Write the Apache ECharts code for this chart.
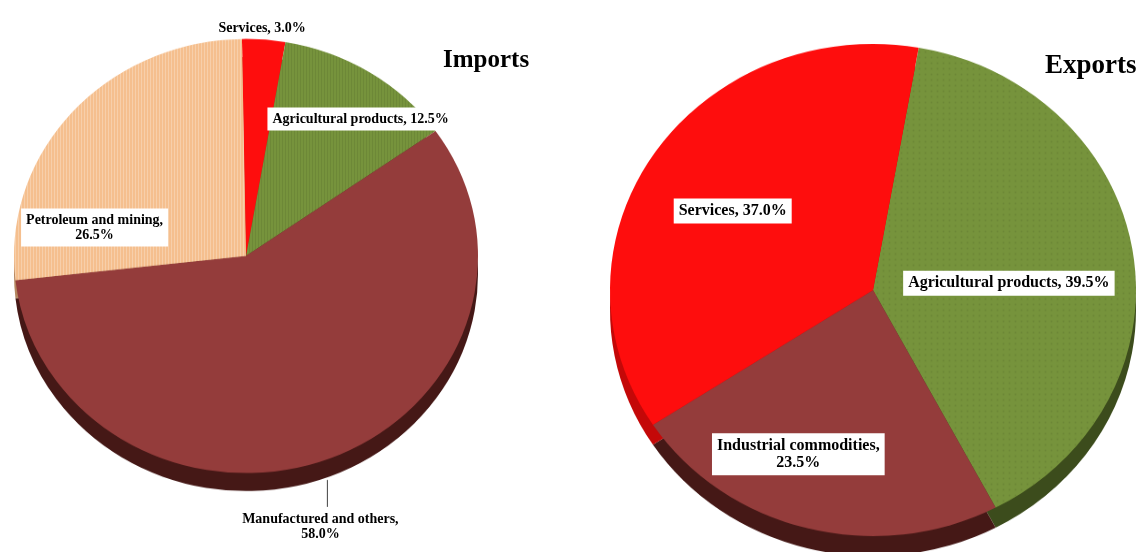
<!DOCTYPE html>
<html><head><meta charset="utf-8">
<script src="https://cdn.jsdelivr.net/npm/echarts@6/dist/echarts.min.js"></script>
<style>
html,body{margin:0;padding:0;background:#fff}
#wrap{position:relative;width:1138px;height:552px;overflow:hidden;background:#fff}
#pies{position:absolute;left:0;top:0;width:1138px;height:590px;transform:scaleY(0.935593);transform-origin:0 0}
#labels{position:absolute;left:0;top:0;width:1138px;height:552px}
</style>
</head><body><div id="wrap"><div id="pies"></div><div id="labels"></div></div>
<script>
// ---------------- data ----------------
const importCategories = ['Services', 'Agricultural products', 'Manufactured and others', 'Petroleum and mining'];
const importValues = [3.0, 12.5, 58.0, 26.5];
const exportCategories = ['Agricultural products', 'Industrial commodities', 'Services'];
const exportValues = [39.5, 23.5, 37.0];
const chartTitles = ['Imports', 'Exports'];

// ---------------- styles ----------------
const K = 552 / 590; // vertical squash of the pie layer (tilted 3-D look)
const FONT = '"Liberation Serif", "Times New Roman", serif';
const FACE = {
  'Services': '#fe0d0d',
  'Agricultural products': '#76933c',
  'Manufactured and others': '#943c3b',
  'Industrial commodities': '#943c3b',
  'Petroleum and mining': '#f5bf8e'
};
const RIM = {
  'Services': '#c40808',
  'Agricultural products': '#3c4c1c',
  'Manufactured and others': '#451816',
  'Industrial commodities': '#451816',
  'Petroleum and mining': '#b48660'
};
// screen-space geometry (cx, cy, horizontal radius, rim depth, start angle)
const IMP = {cx: 246, cy: 256, r: 232, depth: 18, start: 91, font: 14, lh: 15};
const EXP = {cx: 873, cy: 290, r: 263, depth: 20, start: 80, font: 16, lh: 17};

const impLabelStyle = {
  'Services': {box: false, twoLine: false, pos: 'inside', dx: 7, dy: -108.5},
  'Agricultural products': {box: true, twoLine: false, pos: 'inside', dx: 51, dy: -36.5},
  'Manufactured and others': {box: false, twoLine: true, pos: 'outside', lineX: -1, lineY0: 7, lineY1: 34, tx: -8, ty: 54},
  'Petroleum and mining': {box: true, twoLine: true, pos: 'inside', dx: -62, dy: 50}
};
const expLabelStyle = {
  'Agricultural products': {box: true, twoLine: false, pos: 'inside', dx: 3, dy: 14},
  'Industrial commodities': {box: true, twoLine: true, pos: 'inside', dx: -41, dy: 34},
  'Services': {box: true, twoLine: false, pos: 'inside', dx: -28, dy: -5}
};
const STRIPES_LIGHT = {symbol: 'rect', symbolSize: 1, dashArrayX: [1, 2], dashArrayY: [10, 0], rotation: 0, color: 'rgba(255,255,255,0.25)'};
const STRIPES_DARK = {symbol: 'rect', symbolSize: 1, dashArrayX: [1, 2], dashArrayY: [10, 0], rotation: 0, color: 'rgba(0,0,0,0.07)'};
const DOTS = {symbol: 'circle', symbolSize: 0.6, dashArrayX: 3, dashArrayY: 3, rotation: 0, color: 'rgba(0,0,0,0.08)'};
const impDecals = {'Agricultural products': STRIPES_DARK, 'Petroleum and mining': STRIPES_LIGHT};
const expDecals = {'Agricultural products': DOTS};

// ---------------- pie layer (squashed vertically) ----------------
function rimSeries(cfg, cats, vals) {
  return {
    type: 'pie', silent: true, z: 1, animation: false,
    center: [cfg.cx, (cfg.cy + cfg.depth) / K], radius: cfg.r,
    startAngle: cfg.start, clockwise: true,
    label: {show: false}, labelLine: {show: false}, emphasis: {disabled: true},
    itemStyle: {borderWidth: 0},
    data: cats.map((c, i) => ({name: c, value: vals[i], itemStyle: {color: RIM[c]}}))
  };
}
function faceSeries(cfg, cats, vals, decals) {
  return {
    type: 'pie', silent: true, z: 2, animation: false,
    center: [cfg.cx, cfg.cy / K], radius: cfg.r,
    startAngle: cfg.start, clockwise: true,
    label: {show: false}, labelLine: {show: false}, emphasis: {disabled: true},
    itemStyle: {borderWidth: 0},
    data: cats.map((c, i) => {
      const it = {name: c, value: vals[i], itemStyle: {color: FACE[c]}};
      if (decals[c]) it.itemStyle.decal = decals[c];
      return it;
    })
  };
}
const pies = echarts.init(document.getElementById('pies'));
pies.setOption({
  animation: false,
  series: [
    rimSeries(IMP, importCategories, importValues),
    rimSeries(EXP, exportCategories, exportValues),
    faceSeries(IMP, importCategories, importValues, impDecals),
    faceSeries(EXP, exportCategories, exportValues, expDecals)
  ]
});

// ---------------- label layer (unsquashed text) ----------------
function labelSeries(cfg, cats, vals, styles) {
  return {
    type: 'pie', silent: true, animation: false,
    center: [cfg.cx, cfg.cy], radius: cfg.r,
    startAngle: cfg.start, clockwise: true,
    avoidLabelOverlap: false,
    emphasis: {disabled: true},
    itemStyle: {color: 'rgba(0,0,0,0)', borderWidth: 0},
    label: {
      show: true, fontFamily: FONT, fontWeight: 'bold', fontSize: cfg.font, lineHeight: cfg.lh, color: '#000',
      align: 'center',
      formatter: p => p.name + ',' + (styles[p.name].twoLine ? '\n' : ' ') + p.value.toFixed(1) + '%'
    },
    labelLine: {show: false},
    labelLayout: p => {
      const s = styles[cats[p.dataIndex]];
      if (s.pos === 'outside' && p.labelLinePoints) {
        const a = p.labelLinePoints[0];
        const x = a[0] + s.lineX;
        return {
          x: a[0] + s.tx, y: a[1] + s.ty, align: 'center', verticalAlign: 'middle',
          labelLinePoints: [[x, a[1] + s.lineY0], [x, a[1] + s.lineY0 + 1], [x, a[1] + s.lineY1]]
        };
      }
      return {dx: s.dx, dy: s.dy, align: 'center'};
    },
    data: cats.map((c, i) => {
      const s = styles[c];
      const it = {name: c, value: vals[i], label: {position: s.pos}};
      if (s.box) Object.assign(it.label, {backgroundColor: '#fff', padding: [4, 5, 4, 5]});
      if (s.pos === 'outside') {
        it.labelLine = {show: true, length: 10, length2: 0, lineStyle: {color: '#404040', width: 1}};
      }
      return it;
    })
  };
}
const labels = echarts.init(document.getElementById('labels'));
labels.setOption({
  animation: false,
  title: [
    {text: chartTitles[0], left: 443, top: 48, padding: 0,
     textStyle: {fontFamily: FONT, fontWeight: 'bold', fontSize: 25, color: '#000'}},
    {text: chartTitles[1], left: 1045, top: 53, padding: 0,
     textStyle: {fontFamily: FONT, fontWeight: 'bold', fontSize: 27, color: '#000'}}
  ],
  series: [
    labelSeries(IMP, importCategories, importValues, impLabelStyle),
    labelSeries(EXP, exportCategories, exportValues, expLabelStyle)
  ]
});
</script>
</body></html>
